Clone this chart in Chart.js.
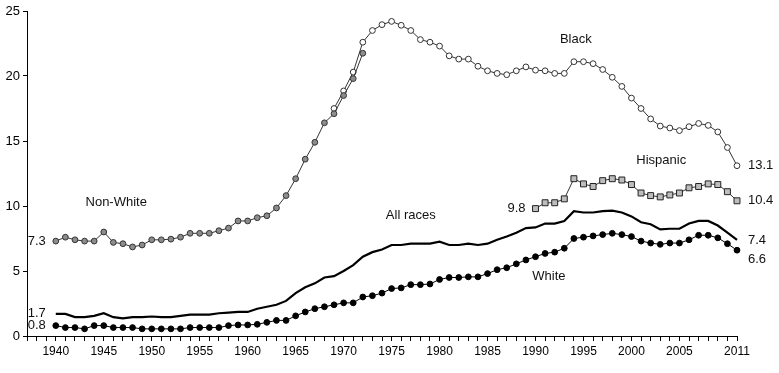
<!DOCTYPE html>
<html>
<head>
<meta charset="utf-8">
<style>
  html, body { margin: 0; padding: 0; background: #fff; }
  #wrap { width: 779px; height: 373px; position: relative; }
</style>
<script src="https://cdn.jsdelivr.net/npm/chart.js@4.4.1/dist/chart.umd.min.js"></script>
</head>
<body>
<div id="wrap"><canvas id="chart"></canvas></div>
<script>
// years 1940-2011
const years = [
  1940, 1941, 1942, 1943, 1944, 1945, 1946, 1947, 1948, 1949,
  1950, 1951, 1952, 1953, 1954, 1955, 1956, 1957, 1958, 1959,
  1960, 1961, 1962, 1963, 1964, 1965, 1966, 1967, 1968, 1969,
  1970, 1971, 1972, 1973, 1974, 1975, 1976, 1977, 1978, 1979,
  1980, 1981, 1982, 1983, 1984, 1985, 1986, 1987, 1988, 1989,
  1990, 1991, 1992, 1993, 1994, 1995, 1996, 1997, 1998, 1999,
  2000, 2001, 2002, 2003, 2004, 2005, 2006, 2007, 2008, 2009,
  2010, 2011
];
const labeledYears = [1940, 1945, 1950, 1955, 1960, 1965, 1970, 1975, 1980, 1985, 1990, 1995, 2000, 2005, 2011];
const yTicks = [0, 5, 10, 15, 20, 25];

// 1940-2011
const allRaces = [
  1.7, 1.7, 1.45, 1.45, 1.55, 1.75, 1.45, 1.35, 1.45, 1.45,
  1.5, 1.45, 1.45, 1.55, 1.65, 1.65, 1.65, 1.75, 1.8, 1.85,
  1.85, 2.1, 2.25, 2.4, 2.7, 3.3, 3.75, 4.05, 4.5, 4.6,
  5.0, 5.45, 6.1, 6.45, 6.65, 7.0, 7.0, 7.1, 7.1, 7.1,
  7.25, 7.0, 7.0, 7.1, 7.0, 7.1, 7.4, 7.65, 7.95, 8.3,
  8.35, 8.65, 8.65, 8.85, 9.6, 9.5, 9.5, 9.6, 9.65, 9.5,
  9.2, 8.75, 8.6, 8.2, 8.25, 8.25, 8.65, 8.85, 8.85, 8.5,
  7.95, 7.4
];
// 1940-2011
const white = [
  0.8, 0.65, 0.65, 0.55, 0.8, 0.8, 0.65, 0.65, 0.65, 0.55,
  0.55, 0.55, 0.55, 0.55, 0.65, 0.65, 0.65, 0.65, 0.8, 0.85,
  0.85, 0.9, 1.05, 1.2, 1.2, 1.55, 1.85, 2.1, 2.25, 2.4,
  2.55, 2.55, 3.0, 3.1, 3.3, 3.65, 3.7, 3.95, 3.95, 4.0,
  4.35, 4.5, 4.5, 4.55, 4.55, 4.8, 5.1, 5.25, 5.55, 5.85,
  6.1, 6.35, 6.45, 6.75, 7.5, 7.6, 7.7, 7.8, 7.9, 7.8,
  7.65, 7.3, 7.15, 7.05, 7.15, 7.15, 7.4, 7.75, 7.75, 7.55,
  7.1, 6.6
];
// 1940-1972
const nonWhite = [
  7.3, 7.6, 7.4, 7.3, 7.3, 8.0, 7.2, 7.1, 6.85, 7.0,
  7.4, 7.4, 7.45, 7.6, 7.9, 7.9, 7.9, 8.1, 8.3, 8.85,
  8.85, 9.1, 9.25, 9.85, 10.8, 12.1, 13.6, 14.9, 16.4, 17.1,
  18.5, 19.8, 21.75
];
// 1969-2011
const black = [
  17.5, 18.85, 20.3, 22.6, 23.5, 23.95, 24.2, 23.9, 23.5, 22.8, 22.6,
  22.3, 21.55, 21.3, 21.3, 20.75, 20.4, 20.2, 20.1, 20.4, 20.7,
  20.45, 20.4, 20.2, 20.2, 21.1, 21.1, 20.95, 20.5, 19.9, 19.2,
  18.3, 17.5, 16.7, 16.15, 16.0, 15.8, 16.1, 16.35, 16.2, 15.7,
  14.5, 13.1
];
// 1990-2011
const hispanic = [
  9.8, 10.25, 10.25, 10.55, 12.1, 11.7, 11.5, 11.95, 12.1, 12.0,
  11.65, 11.0, 10.8, 10.7, 10.85, 11.0, 11.4, 11.5, 11.7, 11.65,
  11.1, 10.4
];

function toPoints(values, startYear) {
  const i0 = years.indexOf(startYear);
  return values.map((v, i) => ({ x: years[i0 + i], y: v }));
}

const FONT = '"Liberation Sans", Arial, sans-serif';
Chart.defaults.font.family = FONT;
Chart.defaults.color = '#000';

const first = (arr, start) => ({ x: start, y: arr[0] });
const last = (arr) => ({ x: 2011, y: arr[arr.length - 1] });

// text drawn on the plot
const notes = [
  { text: 'Non-White', x: 1946.3, y: 10.3, align: 'center', dx: 0, dy: 0 },
  { text: 'Black', x: 1994.2, y: 22.8, align: 'center', dx: 0, dy: 0 },
  { text: 'Hispanic', x: 2003.1, y: 13.5, align: 'center', dx: 0, dy: 0 },
  { text: 'All races', x: 1977.0, y: 9.3, align: 'center', dx: 0, dy: 0 },
  { text: 'White', x: 1991.4, y: 4.6, align: 'center', dx: 0, dy: 0 },
  { text: nonWhite[0].toFixed(1), ...first(nonWhite, 1940), align: 'right', dx: -10, dy: 0 },
  { text: allRaces[0].toFixed(1), ...first(allRaces, 1940), align: 'right', dx: -10, dy: 0 },
  { text: white[0].toFixed(1), ...first(white, 1940), align: 'right', dx: -10, dy: 0 },
  { text: hispanic[0].toFixed(1), ...first(hispanic, 1990), align: 'right', dx: -10, dy: 0 },
  { text: black[black.length - 1].toFixed(1), ...last(black), align: 'left', dx: 11, dy: 0 },
  { text: hispanic[hispanic.length - 1].toFixed(1), ...last(hispanic), align: 'left', dx: 11, dy: 0 },
  { text: allRaces[allRaces.length - 1].toFixed(1), ...last(allRaces), align: 'left', dx: 11, dy: 1 },
  { text: white[white.length - 1].toFixed(1), ...last(white), align: 'left', dx: 11, dy: 9 }
];

const notesPlugin = {
  id: 'notes',
  afterDatasetsDraw(chart) {
    const { ctx, scales: { x, y } } = chart;
    ctx.save();
    ctx.font = '13px ' + FONT;
    ctx.fillStyle = '#111';
    ctx.textBaseline = 'middle';
    notes.forEach(n => {
      ctx.textAlign = n.align;
      ctx.fillText(n.text, x.getPixelForValue(n.x) + n.dx, y.getPixelForValue(n.y) + n.dy);
    });
    ctx.restore();
  }
};

const dotStyle = (fill, border) => ({
  pointStyle: 'circle',
  pointRadius: 2.9,
  pointBackgroundColor: fill,
  pointBorderColor: border,
  pointBorderWidth: 1
});

new Chart(document.getElementById('chart'), {
  type: 'line',
  data: {
    datasets: [
      {
        label: 'White',
        data: toPoints(white, 1940),
        borderColor: '#000',
        borderWidth: 1,
        clip: false,
        ...dotStyle('#000', '#000')
      },
      {
        label: 'All races',
        data: toPoints(allRaces, 1940),
        borderColor: '#000',
        borderWidth: 2.2,
        clip: false,
        pointRadius: 0
      },
      {
        label: 'Hispanic',
        data: toPoints(hispanic, 1990),
        borderColor: '#333',
        borderWidth: 1,
        clip: false,
        pointStyle: 'rect',
        pointRadius: 4.2,
        pointBackgroundColor: '#bdbdbd',
        pointBorderColor: '#222',
        pointBorderWidth: 1
      },
      {
        label: 'Non-White',
        data: toPoints(nonWhite, 1940),
        borderColor: '#333',
        borderWidth: 1,
        clip: false,
        ...dotStyle('#8c8c8c', '#333')
      },
      {
        label: 'Black',
        data: toPoints(black, 1969),
        borderColor: '#333',
        borderWidth: 1,
        clip: false,
        ...dotStyle('#fff', '#333')
      }
    ]
  },
  options: {
    responsive: true,
    maintainAspectRatio: false,
    animation: false,
    layout: { padding: { top: 11, right: 42, bottom: 0, left: 0 } },
    elements: { line: { tension: 0 } },
    plugins: {
      legend: { display: false },
      tooltip: { enabled: false }
    },
    scales: {
      x: {
        type: 'linear',
        min: 1937,
        max: 2011,
        afterBuildTicks: scale => {
          const t = [];
          for (let v = scale.min; v <= scale.max; v++) t.push({ value: v });
          scale.ticks = t;
        },
        afterFit: scale => { scale.height = 37; },
        ticks: {
          autoSkip: false,
          maxRotation: 0,
          padding: 3,
          font: { size: 12 },
          color: '#000',
          callback: v => labeledYears.includes(v) ? String(v) : ''
        },
        grid: { drawOnChartArea: false, tickLength: 5, color: '#000' },
        border: { color: '#000', width: 1 }
      },
      y: {
        min: 0,
        max: 25,
        afterBuildTicks: scale => { scale.ticks = yTicks.map(v => ({ value: v })); },
        afterFit: scale => { scale.width = 27; },
        ticks: { padding: 3, font: { size: 13 }, color: '#000' },
        grid: { drawOnChartArea: false, tickLength: 4, color: '#000' },
        border: { color: '#000', width: 1 }
      }
    }
  },
  plugins: [notesPlugin]
});
</script>
</body>
</html>
